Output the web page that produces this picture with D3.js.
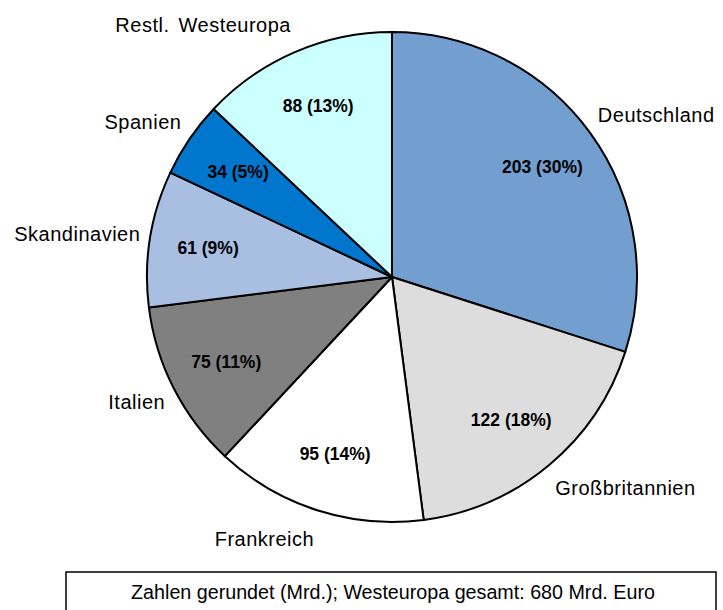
<!DOCTYPE html>
<html>
<head>
<meta charset="utf-8">
<script src="https://cdn.jsdelivr.net/npm/d3@7"></script>
<style>
  body { margin: 0; background: #fff; }
  svg text { font-family: "Liberation Sans", Arial, sans-serif; fill: #000; }
</style>
</head>
<body>
<div id="chart"></div>
<script>
////////// Data //////////
var regions = ["Deutschland", "Großbritannien", "Frankreich", "Italien", "Skandinavien", "Spanien", "Restl. Westeuropa"];
var values = [203, 122, 95, 75, 61, 34, 88];
var shares = [30, 18, 14, 11, 9, 5, 13];
var colors = ["#729fcf", "#dddddd", "#ffffff", "#808080", "#a9bfe1", "#0077cc", "#ccffff"];
var note = "Zahlen gerundet (Mrd.); Westeuropa gesamt: 680 Mrd. Euro";

////////// SVG //////////
var svgWidth = 723, svgHeight = 610;
var cx = 392, cy = 277, radius = 245;

var svg = d3.select("#chart").append("svg")
  .attr("width", svgWidth)
  .attr("height", svgHeight);

var g = svg.append("g")
  .attr("transform", `translate(${cx}, ${cy})`);

var rows = regions.map((r, i) => ({ name: r, value: values[i], share: shares[i], color: colors[i] }));

var pie = d3.pie().sort(null).value(d => d.value);
var arc = d3.arc().innerRadius(0).outerRadius(radius);
var innerArc = d3.arc().innerRadius(radius * 0.76).outerRadius(radius * 0.76);
var outerArc = d3.arc().innerRadius(radius * 1.04).outerRadius(radius * 1.04);

var arcs = pie(rows);
var mid = d => (d.startAngle + d.endAngle) / 2;

////////// Slices //////////
g.selectAll("path.slice")
  .data(arcs)
  .enter()
  .append("path")
  .attr("class", "slice")
  .attr("d", arc)
  .attr("fill", d => d.data.color)
  .attr("stroke", "#000")
  .attr("stroke-width", 2)
  .attr("stroke-linejoin", "round");

////////// Value labels //////////
g.selectAll("text.val")
  .data(arcs)
  .enter()
  .append("text")
  .attr("class", "val")
  .attr("x", d => innerArc.centroid(d)[0])
  .attr("y", d => innerArc.centroid(d)[1])
  .attr("dy", "0.35em")
  .attr("text-anchor", "middle")
  .style("font-size", "17.5px")
  .style("font-weight", "bold")
  .text(d => `${d.data.value} (${d.data.share}%)`);

////////// Category labels //////////
// label box sits just outside the rim, pushed up/down by its own height
g.selectAll("text.cat")
  .data(arcs)
  .enter()
  .append("text")
  .attr("class", "cat")
  .attr("x", d => outerArc.centroid(d)[0])
  .attr("y", d => outerArc.centroid(d)[1] - Math.cos(mid(d)) * 20)
  .attr("dy", "0.35em")
  .attr("text-anchor", d => (mid(d) < Math.PI ? "start" : "end"))
  .style("font-size", "20px")
  .style("letter-spacing", "0.5px")
  .style("word-spacing", "3px")
  .text(d => d.data.name);

////////// Note box //////////
svg.append("rect")
  .attr("x", 66)
  .attr("y", 572)
  .attr("width", 650)
  .attr("height", 50)
  .attr("fill", "#fff")
  .attr("stroke", "#000")
  .attr("stroke-width", 1.5);

svg.append("text")
  .attr("x", 393)
  .attr("y", 592)
  .attr("dy", "0.35em")
  .attr("text-anchor", "middle")
  .style("font-size", "19.7px")
  .text(note);
</script>
</body>
</html>
